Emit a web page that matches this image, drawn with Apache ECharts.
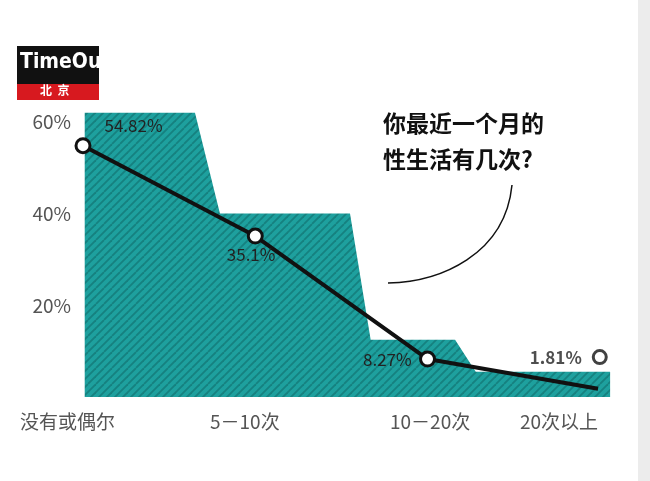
<!DOCTYPE html>
<html><head><meta charset="utf-8">
<script src="https://cdn.jsdelivr.net/npm/echarts@6/dist/echarts.min.js"></script>
<style>html,body{margin:0;padding:0;background:#fff}#c{width:650px;height:481px}</style>
</head><body><div id="c"></div>
<script>
const categories = ['没有或偶尔', '5－10次', '10－20次', '20次以上'];
const values = [54.82, 35.1, 8.27, 1.81];
const valueLabels = ['54.82%', '35.1%', '8.27%', '1.81%'];
const yTicks = [20, 40, 60];
// stepped background band (x in category units, y in %)
const bandX = [0.01, 0.65, 0.795, 1.55, 1.67, 2.16, 2.28, 3.06];
const bandY = [62, 62, 40, 40, 12.5, 12.5, 5.5, 5.5];

const cv = document.createElement('canvas');
cv.width = 16; cv.height = 16;
const cx = cv.getContext('2d');
cx.fillStyle = '#1ea09e'; cx.fillRect(0,0,16,16);
cx.strokeStyle = '#16817f'; cx.lineWidth = 1.8;
for (let o = -16; o <= 32; o += 8) { cx.beginPath(); cx.moveTo(o, 16); cx.lineTo(o + 16, 0); cx.stroke(); }

const chart = echarts.init(document.getElementById('c'));
const labelPos = [[8,-20],[-42,18],[-78,0]];
chart.setOption({
  animation: false,
  grid: {left: 83, top: 99, width: 534, height: 298},
  xAxis: {type: 'value', min: 0, max: 3.1, axisLine:{show:false}, axisTick:{show:false}, splitLine:{show:false}, axisLabel:{show:false}},
  yAxis: {type: 'value', min: 0, max: 65, interval: 20, axisLine:{show:false}, axisTick:{show:false}, splitLine:{show:false},
    axisLabel: {margin: 12, color: '#555', fontSize: 19, fontFamily: 'Noto Sans CJK SC',
      formatter: v => yTicks.includes(v) ? v + '%' : ''}},
  series: [
    {type: 'line', data: bandX.map((x,i)=>[x, bandY[i]]), symbol: 'none', silent: true,
     lineStyle: {width: 0}, areaStyle: {color: {image: cv, repetition: 'repeat'}, opacity: 1}, z: 1},
    {type: 'line', z: 3, data: values.map((v,i)=>{
        const d = {value: [i, v]};
        if (i === 3) { d.symbol = 'none'; d.value = [2.99, v]; }
        else d.label = {show: true, formatter: valueLabels[i], offset: labelPos[i], position: 'right'};
        return d;
      }),
     symbol: 'circle', symbolSize: 14,
     itemStyle: {color: '#fff', borderColor: '#111', borderWidth: 3},
     lineStyle: {color: '#111', width: 4},
     label: {color: '#222', fontSize: 17, fontFamily: 'Noto Sans CJK SC'}},
    {type: 'scatter', z: 4, data: [[3, 8.7]], symbol: 'circle', symbolSize: 13,
     itemStyle: {color: '#fff', borderColor: '#111', borderWidth: 3},
     label: {show: true, position: 'left', distance: 10, formatter: valueLabels[3], color: '#222', fontSize: 17, fontWeight: 'bold', fontFamily: 'Noto Sans CJK SC'}}
  ],
  graphic: [
    ...categories.map((c,i)=>({type:'text', left: [20, 210, 390, 520][i], top: 412,
      style:{text:c, fill:'#555', fontSize: 19, fontFamily:'Noto Sans CJK SC'}})),
    {type:'rect', shape:{x:638,y:0,width:12,height:481}, style:{fill:'#ececec'}},
    {type:'rect', shape:{x:17,y:46,width:82,height:38}, style:{fill:'#111'}},
    {type:'text', left: 20, top: 52, style:{text:'TimeOut', fill:'#fff', fontSize: 21, fontWeight:'bold', fontFamily:'DejaVu Sans Condensed'}},
    {type:'rect', shape:{x:17,y:84,width:82,height:16}, style:{fill:'#d7191f'}},
    {type:'text', left: 40, top: 84, style:{text:'北  京', fill:'#fff', fontSize: 12, fontWeight:'bold', fontFamily:'Noto Sans CJK SC'}},
    {type:'text', left: 383, top: 105, style:{text:'你最近一个月的\n性生活有几次?', fill:'#111', fontSize: 23, fontWeight:'bold', lineHeight: 36, fontFamily:'Noto Sans CJK SC'}},
    {type:'bezierCurve', shape:{x1:512,y1:185,cpx1:505,cpy1:255,cpx2:440,cpy2:282,x2:388,y2:283}, style:{stroke:'#111', lineWidth:1.5, fill:null}}
  ]
});
</script></body></html>
